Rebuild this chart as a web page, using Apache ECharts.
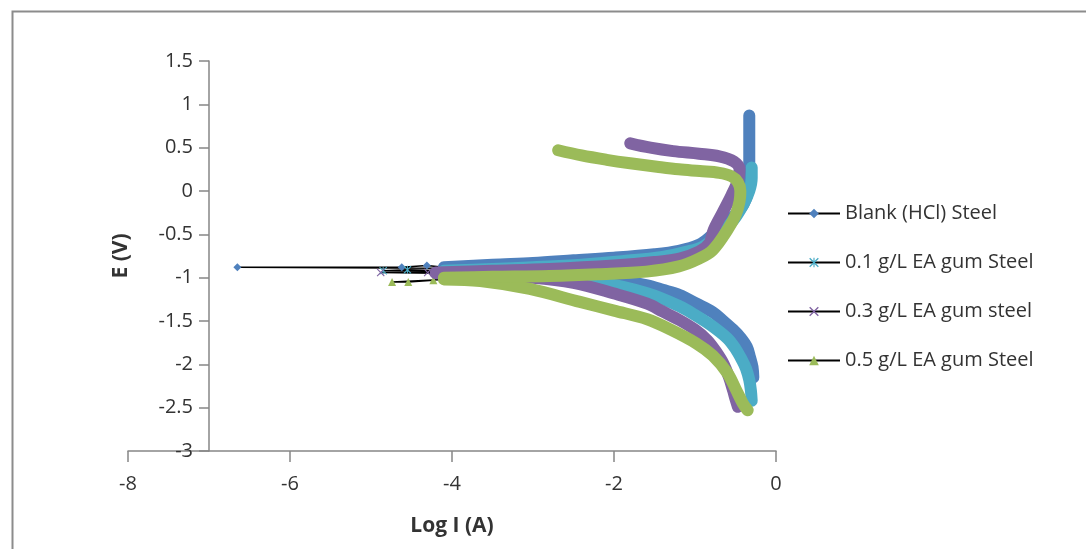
<!DOCTYPE html>
<html><head><meta charset="utf-8">
<script src="https://cdn.jsdelivr.net/npm/echarts@6/dist/echarts.min.js"></script>
<style>html,body{margin:0;padding:0;background:#fff;}#c{width:1086px;height:549px;}</style>
</head><body><div id="c"></div>
<script>
// ---- data: [log I (A), E (V)] ----
const seriesNames = ['Blank (HCl) Steel', '0.1 g/L EA gum Steel', '0.3 g/L EA gum steel', '0.5 g/L EA gum Steel'];
const xTicks = [-8, -6, -4, -2, 0];
const yTicks = [-3, -2.5, -2, -1.5, -1, -0.5, 0, 0.5, 1, 1.5];

const blankCathodic = [[-0.28,-2.15],[-0.29,-2.03],[-0.32,-1.92],[-0.36,-1.8],[-0.44,-1.69],[-0.53,-1.6],[-0.65,-1.5],[-0.78,-1.4],[-0.98,-1.3],[-1.19,-1.2],[-1.4,-1.14],[-1.59,-1.09],[-1.93,-1.03],[-2.4,-0.98],[-3.0,-0.94],[-3.6,-0.91],[-4.1,-0.89]];
const blankEcorr = [[-6.65,-0.88],[-4.62,-0.88],[-4.31,-0.86]];
const blankAnodic = [[-4.1,-0.88],[-3.5,-0.85],[-3.0,-0.83],[-2.5,-0.8],[-2.0,-0.77],[-1.5,-0.73],[-1.2,-0.69],[-0.95,-0.62],[-0.8,-0.52],[-0.65,-0.4],[-0.5,-0.27],[-0.4,-0.15],[-0.35,-0.02],[-0.33,0.2],[-0.33,0.5],[-0.33,0.87]];

const c01Cathodic = [[-0.3,-2.42],[-0.31,-2.3],[-0.33,-2.18],[-0.37,-2.05],[-0.42,-1.95],[-0.5,-1.82],[-0.6,-1.7],[-0.8,-1.55],[-1.0,-1.43],[-1.19,-1.33],[-1.59,-1.18],[-2.2,-1.05],[-2.8,-0.99],[-3.5,-0.95],[-4.1,-0.93]];
const c01Ecorr = [[-4.85,-0.92],[-4.55,-0.91]];
const c01Anodic = [[-4.1,-0.92],[-3.5,-0.9],[-3.0,-0.88],[-2.4,-0.85],[-1.9,-0.81],[-1.4,-0.76],[-1.1,-0.7],[-0.9,-0.64],[-0.7,-0.5],[-0.52,-0.33],[-0.4,-0.15],[-0.33,0.0],[-0.3,0.15],[-0.3,0.27]];

const c03Cathodic = [[-0.47,-2.49],[-0.5,-2.4],[-0.53,-2.3],[-0.58,-2.15],[-0.65,-1.99],[-0.75,-1.84],[-0.85,-1.72],[-1.0,-1.6],[-1.19,-1.49],[-1.4,-1.39],[-1.59,-1.3],[-2.01,-1.18],[-2.5,-1.06],[-3.0,-1.0],[-3.8,-0.96],[-4.2,-0.95]];
const c03Ecorr = [[-4.88,-0.94],[-4.3,-0.94]];
const c03Anodic = [[-4.2,-0.94],[-3.5,-0.92],[-2.8,-0.9],[-2.0,-0.86],[-1.5,-0.82],[-1.19,-0.78],[-0.95,-0.7],[-0.82,-0.6],[-0.77,-0.45],[-0.66,-0.25],[-0.55,-0.05],[-0.47,0.12],[-0.45,0.25],[-0.52,0.34],[-0.7,0.4],[-0.95,0.43],[-1.27,0.46],[-1.55,0.5],[-1.8,0.55]];

const c05Cathodic = [[-0.35,-2.53],[-0.41,-2.45],[-0.5,-2.28],[-0.6,-2.1],[-0.78,-1.9],[-0.98,-1.76],[-1.3,-1.6],[-1.59,-1.48],[-2.0,-1.38],[-2.42,-1.28],[-3.04,-1.13],[-3.65,-1.04],[-4.1,-1.02]];
const c05Ecorr = [[-4.74,-1.05],[-4.54,-1.05],[-4.23,-1.03]];
const c05Anodic = [[-4.1,-1.0],[-3.5,-0.99],[-2.8,-0.98],[-2.2,-0.96],[-1.6,-0.93],[-1.2,-0.87],[-0.95,-0.78],[-0.78,-0.68],[-0.6,-0.45],[-0.5,-0.28],[-0.45,-0.12],[-0.44,0.0],[-0.47,0.1],[-0.55,0.17],[-0.7,0.21],[-0.94,0.23],[-1.2,0.25],[-1.47,0.28],[-1.8,0.32],[-2.09,0.36],[-2.4,0.41],[-2.69,0.47]];

// ---- styling ----
const colors = ['#4F81BD', '#4BACC6', '#8064A2', '#9BBB59'];
const starPath = 'path://M1,0 L5,4 L9,0 L10,1 L6,5 L10,9 L9,10 L5,6 L1,10 L0,9 L4,5 L0,1 Z M4.4,0 L5.6,0 L5.6,10 L4.4,10 Z';
const xPath = 'path://M1,0 L5,4 L9,0 L10,1 L6,5 L10,9 L9,10 L5,6 L1,10 L0,9 L4,5 L0,1 Z';
const symbols = ['diamond', starPath, xPath, 'triangle'];
const sets = [
  [blankCathodic, blankEcorr, blankAnodic],
  [c01Cathodic, c01Ecorr, c01Anodic],
  [c03Cathodic, c03Ecorr, c03Anodic],
  [c05Cathodic, c05Ecorr, c05Anodic]
];

const FONT = '"Open Sans", "Liberation Sans", sans-serif';
const series = [];
sets.forEach((s, i) => {
  series.push({
    name: seriesNames[i], type: 'line', z: 1,
    data: s[0].concat(s[1], s[2]),
    symbol: symbols[i], symbolSize: 8, showAllSymbol: true,
    lineStyle: { color: '#000', width: 1.5 },
    itemStyle: { color: colors[i] },
    animation: false
  });
});
sets.forEach((s, i) => {
  [s[0], s[2]].forEach((branch, k) => {
    series.push({
      name: 'band' + i + '_' + k, type: 'line', z: 2, silent: true,
      data: branch, symbol: 'none', smooth: 0.35,
      lineStyle: { color: colors[i], width: 12, cap: 'round', join: 'round' },
      animation: false
    });
  });
});

const chart = echarts.init(document.getElementById('c'));
chart.setOption({
  animation: false,
  backgroundColor: '#fff',
  grid: { left: 128, right: 310, top: 61, bottom: 98 },
  xAxis: {
    type: 'value', min: xTicks[0], max: xTicks[xTicks.length - 1], interval: 2,
    name: 'Log I (A)', nameLocation: 'middle', nameGap: 65,
    nameTextStyle: { fontFamily: FONT, fontSize: 21, fontWeight: 'bold', color: '#333' },
    axisLine: { onZero: false, lineStyle: { color: '#868686', width: 1.5 } },
    axisTick: { show: true, inside: false, length: 11, lineStyle: { color: '#868686', width: 1.5 } },
    axisLabel: { margin: 23, fontFamily: FONT, fontSize: 20, color: '#333' },
    splitLine: { show: false }
  },
  yAxis: {
    type: 'value', min: yTicks[0], max: yTicks[yTicks.length - 1], interval: 0.5,
    offset: -81,
    name: 'E (V)', nameLocation: 'middle', nameGap: 77, nameRotate: 90,
    nameTextStyle: { fontFamily: FONT, fontSize: 21, fontWeight: 'bold', color: '#333' },
    axisLine: { onZero: false, lineStyle: { color: '#868686', width: 1.5 } },
    axisTick: { show: true, inside: false, length: 10, lineStyle: { color: '#868686', width: 1.5 } },
    axisLabel: { margin: 16, fontFamily: FONT, fontSize: 20, color: '#333' },
    splitLine: { show: false }
  },
  legend: {
    data: seriesNames, orient: 'vertical', left: 782, top: 198,
    itemWidth: 52, itemHeight: 12, itemGap: 28,
    textStyle: { fontFamily: FONT, fontSize: 20, lineHeight: 21, color: '#333', padding: [0,0,0,0] }
  },
  graphic: [{
    type: 'rect', left: 10, top: 9, silent: true, z: -1,
    shape: { width: 1200, height: 700 },
    style: { fill: 'none', stroke: '#8c8c8c', lineWidth: 2 }
  }],
  series: series
});
</script></body></html>
